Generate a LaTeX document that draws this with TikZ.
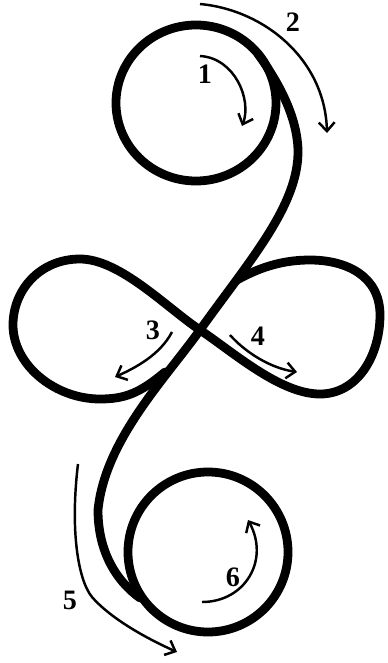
\documentclass[tikz,border=0pt]{standalone}
\usepackage{fontspec}
\setmainfont{Liberation Serif}
\usepackage{tikz}
\usetikzlibrary{arrows.meta}

\begin{document}
\begin{tikzpicture}[x=0.02cm, y=-0.02cm,
    strand/.style={line width=5pt, line cap=round, line join=round},
    turn/.style={line width=1.4pt, -{Straight Barb[length=5pt, width=9pt, line width=1.4pt]}},
    num/.style={font=\fontsize{16}{16}\selectfont\bfseries, inner sep=0pt}]
    \useasboundingbox (0,0) rectangle (387,663);

    % top and bottom circles
    \draw[strand] (196,103) ellipse [x radius=80, y radius=78];
    \draw[strand] (208,552) circle [radius=80];

    % the long S stroke through the crossing
    \draw[strand] (258,54) .. controls (277,80) and (297,115) .. (298,150)
        .. controls (299,205) and (250,260) .. (200,330)
        .. controls (165,379) and (105,440) .. (98,510)
        .. controls (98,550) and (115,580) .. (140,598);

    % left lobe
    \draw[strand] (200,330) .. controls (167,308) and (120,259) .. (80,259)
        .. controls (40,259) and (13,290) .. (13,325)
        .. controls (13,365) and (55,399) .. (100,399)
        .. controls (125,399) and (140,393) .. (165,372);

    % right lobe
    \draw[strand] (200,330) .. controls (233,352) and (280,394) .. (320,394)
        .. controls (358,394) and (380,355) .. (380,315)
        .. controls (380,275) and (345,260) .. (310,260)
        .. controls (285,260) and (262,266) .. (237,280);

    % direction arrows
    \draw[turn] (200,56) .. controls (235,58) and (252,100) .. (242,126);
    \draw[turn] (200,4) .. controls (265,10) and (325,60) .. (327,133);
    \draw[turn] (172,332) .. controls (160,355) and (135,368) .. (115,377);
    \draw[turn] (230,335) .. controls (245,352) and (270,368) .. (297,372);
    \draw[turn] (78,464) .. controls (70,530) and (78,580) .. (92,597)
        .. controls (112,620) and (150,640) .. (177,652);
    \draw[turn] (202,602) .. controls (245,602) and (270,560) .. (248,520);

    \node[num] (n1) at (205,74) {1};
    \node[num] (n2) at (293,22) {2};
    \node[num] (n3) at (153,330) {3};
    \node[num] (n4) at (258,336) {4};
    \node[num] (n5) at (70,600) {5};
    \node[num] (n6) at (233,577) {6};
\end{tikzpicture}
\end{document}
